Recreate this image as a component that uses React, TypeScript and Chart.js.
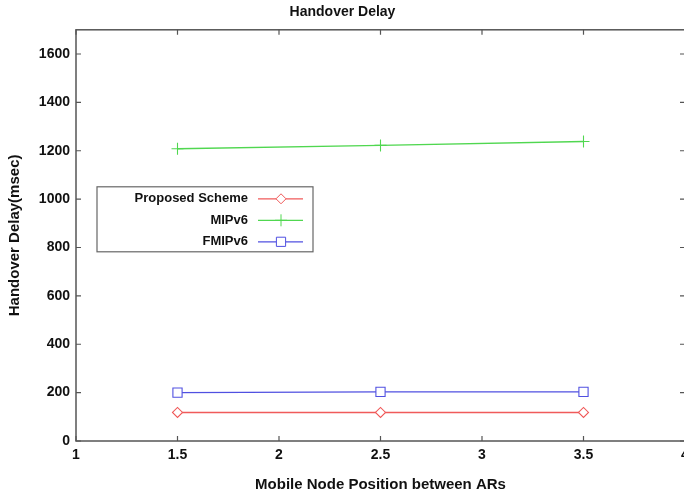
import React, { useEffect, useRef } from "react";
import { Chart, registerables } from "chart.js";

Chart.register(...registerables);

const positions = [1.5, 2.5, 3.5];
const proposedScheme = [118, 118, 118];
const mipv6 = [1208, 1222, 1238];
const fmipv6 = [200, 203, 203];
const seriesNames = ["Proposed Scheme", "MIPv6", "FMIPv6"];
const xTicks = [1, 1.5, 2, 2.5, 3, 3.5, 4];
const yTicks = [0, 200, 400, 600, 800, 1000, 1200, 1400, 1600];

const RED = "rgb(240,90,90)";
const GREEN = "rgb(80,215,80)";
const BLUE = "rgb(80,80,225)";
const FONT = "'Liberation Sans', Arial, sans-serif";

function drawMarker(ctx: CanvasRenderingContext2D, style: string, x: number, y: number, r: number, color: string) {
  ctx.save();
  ctx.strokeStyle = color;
  ctx.fillStyle = "white";
  ctx.lineWidth = 1;
  ctx.beginPath();
  if (style === "rectRot") {
    ctx.moveTo(x, y - r);
    ctx.lineTo(x + r, y);
    ctx.lineTo(x, y + r);
    ctx.lineTo(x - r, y);
    ctx.closePath();
    ctx.fill();
    ctx.stroke();
  } else if (style === "rect") {
    const h = r * Math.SQRT1_2;
    ctx.rect(x - h, y - h, 2 * h, 2 * h);
    ctx.fill();
    ctx.stroke();
  } else {
    ctx.moveTo(x - r, y);
    ctx.lineTo(x + r, y);
    ctx.moveTo(x, y - r);
    ctx.lineTo(x, y + r);
    ctx.stroke();
  }
  ctx.restore();
}

const frameAndLegend = {
  id: "frameAndLegend",
  afterDatasetsDraw(chart: any) {
    const { ctx, chartArea } = chart;
    const xs = chart.scales.x;
    const ys = chart.scales.y;
    const { left, right, top, bottom } = chartArea;
    ctx.save();
    ctx.strokeStyle = "#555";
    ctx.lineWidth = 1.5;
    ctx.strokeRect(left, top, right - left, bottom - top);
    ctx.lineWidth = 1.2;
    ctx.beginPath();
    const tl = 5;
    xTicks.forEach((v) => {
      const px = xs.getPixelForValue(v);
      ctx.moveTo(px, bottom);
      ctx.lineTo(px, bottom - tl);
      ctx.moveTo(px, top);
      ctx.lineTo(px, top + tl);
    });
    yTicks.forEach((v) => {
      const py = ys.getPixelForValue(v);
      ctx.moveTo(left, py);
      ctx.lineTo(left + tl, py);
      ctx.moveTo(right, py);
      ctx.lineTo(right - tl, py);
    });
    ctx.stroke();

    // legend
    const bx = left + 21;
    const by = top + 157;
    const bw = 216;
    const bh = 65;
    ctx.fillStyle = "white";
    ctx.fillRect(bx, by, bw, bh);
    ctx.strokeStyle = "#666";
    ctx.lineWidth = 1.2;
    ctx.strokeRect(bx, by, bw, bh);
    ctx.font = `bold 13px ${FONT}`;
    ctx.textAlign = "right";
    ctx.textBaseline = "middle";
    chart.data.datasets.forEach((ds: any, i: number) => {
      const y = by + 12 + i * 21.5;
      ctx.fillStyle = "#111";
      ctx.fillText(ds.label, bx + 151, y);
      ctx.strokeStyle = ds.borderColor;
      ctx.lineWidth = 1.2;
      ctx.beginPath();
      ctx.moveTo(bx + 161, y);
      ctx.lineTo(bx + 206, y);
      ctx.stroke();
      drawMarker(ctx, ds.pointStyle, bx + 184, y, ds.pointRadius, ds.borderColor);
    });
    ctx.restore();
  },
};

export default function App() {
  const ref = useRef<HTMLCanvasElement | null>(null);
  useEffect(() => {
    if (!ref.current) return;
    const mk = (label: string, data: number[], color: string, style: string, r: number) => ({
      label,
      data: positions.map((x, i) => ({ x, y: data[i] })),
      borderColor: color,
      backgroundColor: "white",
      pointBackgroundColor: "white",
      pointBorderColor: color,
      borderWidth: 1.4,
      pointBorderWidth: 1.1,
      pointStyle: style,
      pointRadius: r,
      tension: 0,
    });
    const chart = new Chart(ref.current, {
      type: "line",
      data: {
        datasets: [
          mk(seriesNames[0], proposedScheme, RED, "rectRot", 5),
          mk(seriesNames[1], mipv6, GREEN, "cross", 6),
          mk(seriesNames[2], fmipv6, BLUE, "rect", 6.5),
        ],
      },
      plugins: [frameAndLegend],
      options: {
        animation: false,
        responsive: false,
        maintainAspectRatio: false,
        layout: { padding: { left: 0, right: 15, top: 0, bottom: 0 } },
        plugins: {
          legend: { display: false },
          tooltip: { enabled: false },
          title: {
            display: true,
            text: "Handover Delay",
            color: "#111",
            font: { family: FONT, size: 14, weight: "bold" },
            padding: { top: 4, bottom: 9 },
          },
        },
        scales: {
          x: {
            type: "linear",
            min: 1,
            max: 4,
            afterBuildTicks: (s: any) => {
              s.ticks = xTicks.map((v) => ({ value: v }));
            },
            afterFit: (s: any) => {
              s.height = 57;
            },
            grid: { display: false, drawTicks: false },
            border: { display: false },
            ticks: {
              color: "#111",
              padding: 6,
              font: { family: FONT, size: 14, weight: "bold" },
              callback: (v: any) => String(v),
            },
            title: {
              display: true,
              text: "Mobile Node Position between ARs",
              color: "#111",
              font: { family: FONT, size: 15, weight: "bold" },
              padding: { top: 8, bottom: 4 },
            },
          },
          y: {
            type: "linear",
            min: 0,
            max: 1700,
            afterBuildTicks: (s: any) => {
              s.ticks = yTicks.map((v) => ({ value: v }));
            },
            afterFit: (s: any) => {
              s.width = 76;
            },
            grid: { display: false, drawTicks: false },
            border: { display: false },
            ticks: {
              color: "#111",
              padding: 6,
              font: { family: FONT, size: 14, weight: "bold" },
              callback: (v: any) => String(v),
            },
            title: {
              display: true,
              text: "Handover Delay(msec)",
              color: "#111",
              font: { family: FONT, size: 15, weight: "bold" },
              padding: { top: 6, bottom: 0 },
            },
          },
        },
      },
    });
    return () => chart.destroy();
  }, []);
  return (
    <div style={{ position: "fixed", left: 0, top: 0, width: 700, height: 498, background: "white", overflow: "hidden" }}>
      <canvas ref={ref} width={700} height={498} style={{ display: "block" }} />
    </div>
  );
}
